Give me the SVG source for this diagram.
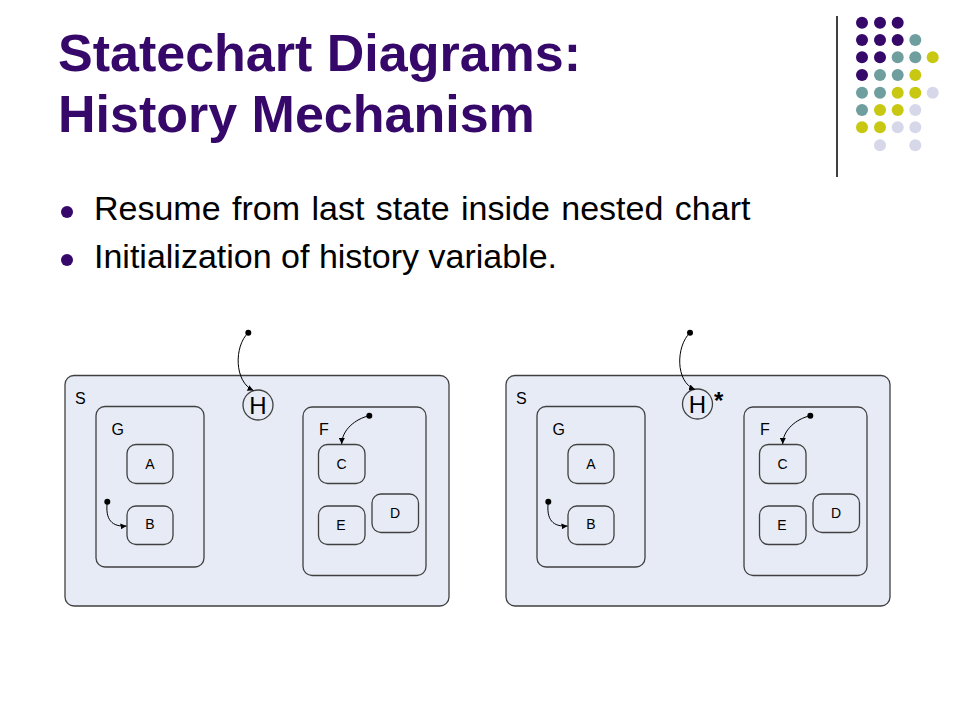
<svg xmlns="http://www.w3.org/2000/svg" width="960" height="720" viewBox="0 0 960 720">
<defs>
<marker id="arr" viewBox="0 0 10 10" refX="10" refY="5" markerWidth="6" markerHeight="6" orient="auto" markerUnits="userSpaceOnUse">
<path d="M0,0 L10,5 L0,10 z" fill="#000"/>
</marker>
<style>
.title{font-family:"Liberation Sans",Arial,sans-serif;font-weight:bold;font-size:52px;fill:#36086a}
.bul{font-family:"Liberation Sans",Arial,sans-serif;font-size:34px;fill:#000}
.sbox{fill:#e6ebf5;stroke:#404040;stroke-width:1.3}
.box{fill:none;stroke:#404040;stroke-width:1.3}
.lbl{font-family:"Liberation Sans",Arial,sans-serif;font-size:16px;fill:#000}
.st{font-family:"Liberation Sans",Arial,sans-serif;font-size:14px;fill:#000;text-anchor:middle}
.h{font-family:"Liberation Sans",Arial,sans-serif;font-size:24px;fill:#000;text-anchor:middle}
.con{fill:none;stroke:#000;stroke-width:1}
.dot{fill:#000}
.p{fill:#36086a}.t{fill:#6f9e9e}.y{fill:#c8c812}.l{fill:#d7d7ea}
</style>
</defs>
<rect width="960" height="720" fill="#fff"/>
<g id="decor">
<line x1="837" y1="16" x2="837" y2="177" stroke="#000" stroke-width="1.5"/>
<circle class="p" cx="862" cy="22.7" r="6"/><circle class="p" cx="880" cy="22.7" r="6"/><circle class="p" cx="897.7" cy="22.7" r="6"/>
<circle class="p" cx="862" cy="40" r="6"/><circle class="p" cx="880" cy="40" r="6"/><circle class="p" cx="897.7" cy="40" r="6"/><circle class="t" cx="915.3" cy="40" r="6"/>
<circle class="p" cx="862" cy="57.3" r="6"/><circle class="p" cx="880" cy="57.3" r="6"/><circle class="t" cx="897.7" cy="57.3" r="6"/><circle class="t" cx="915.3" cy="57.3" r="6"/><circle class="y" cx="932.7" cy="57.3" r="6"/>
<circle class="p" cx="862" cy="75" r="6"/><circle class="t" cx="880" cy="75" r="6"/><circle class="t" cx="897.7" cy="75" r="6"/><circle class="y" cx="915.3" cy="75" r="6"/>
<circle class="t" cx="862" cy="92.7" r="6"/><circle class="t" cx="880" cy="92.7" r="6"/><circle class="y" cx="897.7" cy="92.7" r="6"/><circle class="y" cx="915.3" cy="92.7" r="6"/><circle class="l" cx="932.7" cy="92.7" r="6"/>
<circle class="t" cx="862" cy="110" r="6"/><circle class="y" cx="880" cy="110" r="6"/><circle class="y" cx="897.7" cy="110" r="6"/><circle class="l" cx="915.3" cy="110" r="6"/>
<circle class="y" cx="862" cy="127.3" r="6"/><circle class="y" cx="880" cy="127.3" r="6"/><circle class="l" cx="897.7" cy="127.3" r="6"/><circle class="l" cx="915.3" cy="127.3" r="6"/>
<circle class="l" cx="880" cy="145.3" r="6"/><circle class="l" cx="915.3" cy="145.3" r="6"/>
</g>
<g id="title">
<text class="title" x="58" y="71">Statechart Diagrams:</text>
<text class="title" x="58" y="132">History Mechanism</text>
</g>
<g id="bullets">
<circle class="p" cx="67" cy="212" r="6"/>
<text class="bul" x="94" y="220" word-spacing="2">Resume from last state inside nested chart</text>
<circle class="p" cx="67" cy="260" r="6"/>
<text class="bul" x="94" y="268">Initialization of history variable.</text>
</g>
<!-- Left diagram -->
<g id="S1"><rect class="sbox" x="65" y="375.5" width="384" height="230.5" rx="9"/><text class="lbl" x="75" y="404">S</text></g>
<g id="G1"><rect class="box" x="96" y="406.5" width="108" height="160.5" rx="9"/><text class="lbl" x="111.5" y="435">G</text></g>
<g id="A1"><rect class="box" x="127" y="444.5" width="46" height="39" rx="9"/><text class="st" x="150" y="469">A</text></g>
<g id="B1"><rect class="box" x="127" y="506" width="46" height="38.5" rx="9"/><text class="st" x="150" y="529">B</text></g>
<g id="H1"><circle class="box" cx="258" cy="405" r="15"/><text class="h" x="258" y="414">H</text></g>
<g id="F1"><rect class="box" x="303" y="407" width="123" height="168.5" rx="9"/><text class="lbl" x="319" y="435">F</text></g>
<g id="C1"><rect class="box" x="318.5" y="444.5" width="46.5" height="39" rx="9"/><text class="st" x="341.5" y="469">C</text></g>
<g id="E1"><rect class="box" x="318.5" y="506" width="46.5" height="38.5" rx="9"/><text class="st" x="341" y="529.5">E</text></g>
<g id="D1"><rect class="box" x="372" y="494" width="46.5" height="38.5" rx="9"/><text class="st" x="395" y="518">D</text></g>
<!-- Right diagram -->
<g id="S2"><rect class="sbox" x="506" y="375.5" width="384" height="230.5" rx="9"/><text class="lbl" x="516" y="404">S</text></g>
<g id="G2"><rect class="box" x="537" y="406.5" width="108" height="160.5" rx="9"/><text class="lbl" x="552.5" y="435">G</text></g>
<g id="A2"><rect class="box" x="568" y="444.5" width="46" height="39" rx="9"/><text class="st" x="591" y="469">A</text></g>
<g id="B2"><rect class="box" x="568" y="506" width="46" height="38.5" rx="9"/><text class="st" x="591" y="529">B</text></g>
<g id="H2"><circle class="box" cx="697.5" cy="404" r="15"/><text class="h" x="697.5" y="413">H</text><text x="714" y="409" style="font-family:'Liberation Sans',Arial,sans-serif;font-weight:bold;font-size:24px">*</text></g>
<g id="F2"><rect class="box" x="744" y="407" width="123" height="168.5" rx="9"/><text class="lbl" x="760" y="435">F</text></g>
<g id="C2"><rect class="box" x="759.5" y="444.5" width="46.5" height="39" rx="9"/><text class="st" x="782.5" y="469">C</text></g>
<g id="E2"><rect class="box" x="759.5" y="506" width="46.5" height="38.5" rx="9"/><text class="st" x="782" y="529.5">E</text></g>
<g id="D2"><rect class="box" x="813" y="494" width="46.5" height="38.5" rx="9"/><text class="st" x="836" y="518">D</text></g>
<g id="connectors">
<circle class="dot" cx="248.3" cy="332.7" r="3"/>
<path class="con" d="M248.3,332.7 C234,346 234,382 253.5,390.5" marker-end="url(#arr)"/>
<circle class="dot" cx="369.3" cy="415.7" r="3"/>
<path class="con" d="M369.3,415.7 C355,419 342,430 341.7,444" marker-end="url(#arr)"/>
<circle class="dot" cx="107.3" cy="501.7" r="3"/>
<path class="con" d="M107.3,501.7 C105,520 112,527 126.5,526" marker-end="url(#arr)"/>
<circle class="dot" cx="690" cy="332.7" r="3"/>
<path class="con" d="M690,332.7 C676,346 675,382 695,389.5" marker-end="url(#arr)"/>
<circle class="dot" cx="810.3" cy="415.7" r="3"/>
<path class="con" d="M810.3,415.7 C796,419 783,430 782.7,444" marker-end="url(#arr)"/>
<circle class="dot" cx="548.3" cy="501.7" r="3"/>
<path class="con" d="M548.3,501.7 C546,520 553,527 567.5,526" marker-end="url(#arr)"/>
</g>
</svg>
